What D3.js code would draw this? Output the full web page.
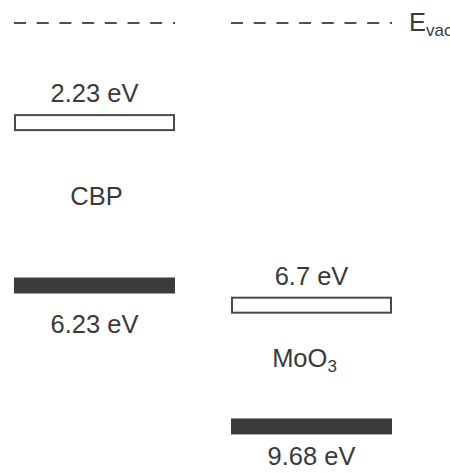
<!DOCTYPE html>
<html>
<head>
<meta charset="utf-8">
<script src="https://cdn.jsdelivr.net/npm/d3@7"></script>
<style>
  html, body { margin: 0; padding: 0; background: #fff; overflow: hidden; }
  text { font-family: "Liberation Sans", Arial, sans-serif; fill: #3a3a3a; }
</style>
</head>
<body>
<script>
// Energy levels below vacuum (eV)
const materials = ["CBP", "MoO3"];
const lumo = [2.23, 6.7];
const homo = [6.23, 9.68];
const vacuumLabel = "E";
const vacuumSub = "vac";

let width = 450, height = 473;

let svg = d3.select("body")
    .append("svg")
    .attr("width", width)
    .attr("height", height);

// columns, one per material
let x = d3.scaleBand()
    .domain(materials)
    .range([14, 392])
    .paddingInner(0.258)
    .paddingOuter(0);

// energy axis, schematic (0 = vacuum level)
let y = d3.scaleLinear()
    .domain([0, 10])
    .range([23, 431.5]);

let barH = 16;

let rows = materials.map((m, i) => ({ name: m, lumo: lumo[i], homo: homo[i] }));

// vacuum level dashes
svg.append("g")
    .selectAll("line")
    .data(materials)
    .enter()
    .append("line")
    .attr("x1", d => x(d))
    .attr("x2", d => x(d) + x.bandwidth())
    .attr("y1", y(0))
    .attr("y2", y(0))
    .attr("stroke", "#505050")
    .attr("stroke-width", 2)
    .attr("stroke-dasharray", "12 10.7");

let ev = svg.append("text")
    .attr("x", 409)
    .attr("y", y(0) + 8)
    .style("font-size", "25.5px")
    .text(vacuumLabel);
ev.append("tspan")
    .attr("dy", 5)
    .style("font-size", "17px")
    .text(vacuumSub);

let cols = svg.append("g")
    .selectAll(".col")
    .data(rows)
    .enter()
    .append("g")
    .attr("class", "col");

// LUMO: open bar
cols.append("rect")
    .attr("x", d => x(d.name) + 1)
    .attr("y", d => y(d.lumo) + 1)
    .attr("width", x.bandwidth() - 2)
    .attr("height", barH - 1)
    .attr("fill", "#fff")
    .attr("stroke", "#4a4a4a")
    .attr("stroke-width", 2);

cols.append("text")
    .attr("x", d => x(d.name) + x.bandwidth() / 2)
    .attr("y", d => y(d.lumo) - 12)
    .attr("text-anchor", "middle")
    .style("font-size", "25.5px")
    .text(d => d.lumo + " eV");

// HOMO: filled bar
cols.append("rect")
    .attr("x", d => x(d.name))
    .attr("y", d => y(d.homo))
    .attr("width", x.bandwidth())
    .attr("height", barH)
    .attr("fill", "#3c3c3c");

// label under the bar, kept inside the picture
cols.append("text")
    .attr("x", d => x(d.name) + x.bandwidth() / 2)
    .attr("y", d => Math.min(y(d.homo) + barH + 40, height - 8))
    .attr("text-anchor", "middle")
    .style("font-size", "25.5px")
    .text(d => d.homo + " eV");

// material name, digits drawn as subscript
let names = cols.append("text")
    .attr("x", d => x(d.name) + x.bandwidth() / 2 + (/\d/.test(d.name) ? -7 : 2))
    .attr("y", d => (y(d.lumo) + y(d.homo)) / 2 + 9)
    .attr("text-anchor", "middle")
    .style("font-size", "25.5px");

names.each(function (d) {
    let t = d3.select(this);
    d.name.match(/\D+|\d+/g).forEach(part => {
        if (/\d/.test(part)) {
            t.append("tspan").attr("dy", 5).style("font-size", "17px").text(part);
        } else {
            t.append("tspan").text(part);
        }
    });
});
</script>
</body>
</html>
